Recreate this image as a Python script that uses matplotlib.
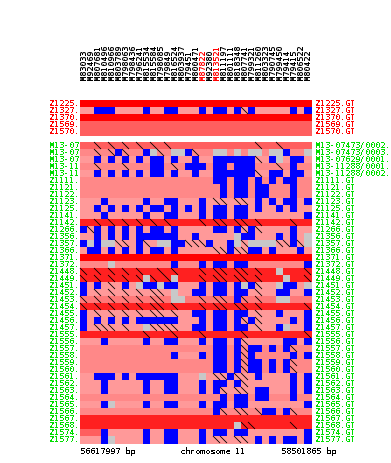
"""Genotype block chart for a chromosome 11 region, saved to out.png."""

import matplotlib

matplotlib.use("Agg")
import matplotlib.pyplot as plt
import numpy as np
from matplotlib.colors import ListedColormap

plt.rcParams["text.hinting"] = "native"
plt.rcParams["text.hinting_factor"] = 1

markers = [
    "M83033", "M92469", "M807681", "M810496", "M810966", "M803789", "M798063",
    "M798436", "M796241", "M815534", "M815584", "M798085", "M79849", "M816524",
    "M803937", "M79451", "M800471", "M87822", "M92380", "M813521", "M811197",
    "M801111", "M818348", "M807741", "M799321", "M811260", "M803323", "M790745",
    "M799450", "M79414", "M79415", "M806522", "M80422",
]
red_markers = ["M87822", "M813521"]

top_left = ["Z1225.", "Z1327.", "Z1370.", "Z1569.", "Z1570."]
top_right = ["Z1225.GT", "Z1327.GT", "Z1370.GT", "Z1569.GT", "Z1570.GT"]
top_shade = [0, 4, 0, 2, 2]
top_blue = [[], [2, 3, 4, 9, 12, 13, 17, 19, 20, 22, 24, 30, 32], [], [], []]
top_gray = {}
top_hatch = {1: [23]}

main_left = [
    "M13-07", "M13-07", "M13-07", "M13-11", "M13-11", "Z1111.", "Z1121.", "Z1122.",
    "Z1123.", "Z1125.", "Z1141.", "Z1142.", "Z1266.", "Z1356.", "Z1357.", "Z1366.",
    "Z1371.", "Z1372.", "Z1448.", "Z1449.", "Z1451.", "Z1452.", "Z1453.", "Z1454.",
    "Z1455.", "Z1456.", "Z1457.", "Z1555.", "Z1556.", "Z1557.", "Z1558.", "Z1559.",
    "Z1560.", "Z1561.", "Z1562.", "Z1563.", "Z1564.", "Z1565.", "Z1566.", "Z1567.",
    "Z1568.", "Z1574.", "Z1577.",
]
main_right = [
    "M13-07473/0002.", "M13-07473/0003.", "M13-07629/0001.", "M13-11288/0001.",
    "M13-11288/0002.", "Z1111.GT", "Z1121.GT", "Z1122.GT", "Z1123.GT", "Z1125.GT",
    "Z1141.GT", "Z1142.GT", "Z1266.GT", "Z1356.GT", "Z1357.GT", "Z1366.GT",
    "Z1371.GT", "Z1372.GT", "Z1448.GT", "Z1449.GT", "Z1451.GT", "Z1452.GT",
    "Z1453.GT", "Z1454.GT", "Z1455.GT", "Z1456.GT", "Z1457.GT", "Z1555.GT",
    "Z1556.GT", "Z1557.GT", "Z1558.GT", "Z1559.GT", "Z1560.GT", "Z1561.GT",
    "Z1562.GT", "Z1563.GT", "Z1564.GT", "Z1565.GT", "Z1566.GT", "Z1567.GT",
    "Z1568.GT", "Z1574.GT", "Z1577.GT",
]
# 0 red, 1 strong, 2 mid, 3 pale, 4 palest, 5 mid-pale
main_shade = [
    2, 3, 4, 3, 4, 3, 3, 3, 4, 4, 4, 1, 4, 4, 4, 4, 0, 3, 1, 1, 4, 4, 5, 1, 4, 4,
    4, 1, 4, 3, 3, 3, 3, 4, 4, 4, 3, 4, 3, 1, 1, 4, 4,
]
main_blue = [
    [],
    [5, 9, 15, 29],
    [2, 4, 6, 8, 10, 11, 13, 16, 19, 20, 21, 22, 23, 24, 27, 30, 31],
    [10, 11, 15, 16, 17, 19, 20, 22, 23, 24, 30],
    [2, 4, 6, 8, 10, 11, 13, 16, 19, 20, 21, 22, 23, 24, 27, 28, 30, 31],
    [19, 20, 22, 23, 25, 27, 29, 30],
    [20, 22, 23, 25, 26, 30],
    [20, 22, 23, 25, 26, 30],
    [3, 9, 12, 13, 17, 25, 27, 29, 30, 32],
    [2, 4, 6, 8, 10, 11, 13, 15, 17, 19, 20, 22, 23, 25, 28, 30],
    [3, 9, 12, 13, 17, 19, 20, 22, 23, 32],
    [],
    [0, 2, 4, 6, 8, 10, 11, 13, 19, 20, 22, 24, 30],
    [2, 4, 6, 8, 9, 10, 11, 12, 13, 16, 23, 24, 28, 30],
    [0, 2, 8, 13, 14, 18, 21, 30],
    [1, 2, 4, 6, 8, 10, 11, 13, 21, 24, 25, 27, 31],
    [],
    [13, 17, 19, 20, 22, 23, 32],
    [],
    [],
    [0, 2, 6, 9, 10, 12, 13, 17, 19, 20, 22, 24, 29, 30],
    [0, 16, 17, 19, 20, 22, 23, 28, 29, 32],
    [22],
    [],
    [0, 16, 17, 19, 20, 22, 23, 28, 32],
    [0, 2, 4, 6, 8, 9, 10, 11, 12, 13, 17, 19, 20, 22, 24, 30, 32],
    [0, 16, 17, 19, 20, 22, 23, 28, 32],
    [],
    [3, 9, 12, 13, 17, 19, 20, 22, 29, 30, 32],
    [19, 20, 22, 24, 25, 27, 29],
    [13, 17, 19, 20, 22, 24, 30, 32],
    [19, 20, 22, 24, 25, 27, 29],
    [19, 20, 22, 24, 25, 27, 29],
    [2, 3, 4, 6, 8, 9, 10, 11, 12, 13, 21, 25, 30, 32],
    [3, 9, 12, 13, 17, 19, 20, 22, 30, 32],
    [3, 9, 12, 13, 17, 19, 25, 26, 30, 32],
    [20, 22, 23, 25, 26, 30],
    [3, 9, 12, 13, 17, 19, 20, 22, 23, 32],
    [19, 26, 27, 29],
    [],
    [],
    [3, 9, 12, 13, 17, 19, 20, 22, 23, 32],
    [3, 9, 12, 13, 17, 25, 27, 29, 30, 32],
]
main_gray = {
    1: [10, 13, 14, 19, 20, 22, 24, 25, 27, 28, 32],
    2: [28],
    13: [22, 32],
    14: [1, 3, 4, 11, 12, 22, 24, 25, 26, 27, 32],
    17: [4],
    18: [28],
    19: [9, 13, 29],
    20: [8, 11, 23, 28, 32],
    21: [13],
    22: [13, 14, 28, 29],
    26: [9, 29],
    33: [17],
    37: [4],
    40: [22],
    42: [4],
}
main_hatch = {
    0: [2, 4, 6, 8, 10, 12, 25, 28],
    1: [2, 4, 6, 11, 16],
    2: [25],
    3: [2, 6, 13, 28],
    4: [25],
    8: [19, 20, 22, 23],
    11: [2, 4, 6, 8, 10, 12, 17, 19, 20, 22, 23, 25, 30],
    12: [1, 23, 25],
    14: [5, 6, 9, 15, 16, 17, 23, 28, 29, 31],
    15: [19, 20, 22, 23],
    18: [0, 2, 4, 6, 8, 11, 13, 17, 19, 20, 22, 23, 25, 32],
    19: [0, 2, 4, 6, 8, 10, 12, 17, 19, 20, 22, 23, 25, 32],
    20: [4, 25],
    21: [2, 4, 6, 8, 10, 11, 25],
    22: [0, 2, 4, 6, 8, 10, 11, 17, 19, 20, 23, 25],
    23: [0, 2, 4, 6, 8, 10, 11, 13, 17, 19, 20, 22, 23, 25, 32],
    24: [2, 4, 6, 8, 10, 11, 13, 25],
    25: [23, 25],
    26: [2, 3, 4, 6, 10, 11, 12, 13, 25],
    27: [9, 13, 17, 23, 32],
    28: [23],
    29: [23, 30],
    30: [23],
    31: [23, 30],
    32: [23, 30],
    33: [19, 20, 22, 23],
    34: [23],
    35: [20, 22, 23],
    38: [20, 22, 23, 25, 30],
    40: [23, 24, 30],
    42: [19, 20, 22, 23],
}
# (row, column, shade) cells that differ from the rest of their row
main_shade_cells = [(41, 0, 2), (41, 1, 2), (41, 2, 2), (30, 14, 4), (30, 15, 4), (30, 16, 4)]

left_pos = "56617997 bp"
mid_title = "chromosome 11"
right_pos = "58501865 bp"

SHADES = ["#ff0000", "#ff2020", "#ff5f5f", "#ff8888", "#ff9999", "#ff7878", "#0000ff", "#c8c8c8"]
BLUE, GRAY = 6, 7
GREEN = "#00dd00"
CELL = 7
X0 = 80
FONT = dict(family="DejaVu Sans Mono", fontsize=6.0, fontweight="bold")


def draw_block(ax, y0, shades, blue, gray, hatch, left, right, colour, extras=()):
    nrows, ncols = len(shades), len(markers)
    grid = np.tile(np.array(shades)[:, None], (1, ncols))
    for r, c, s in extras:
        grid[r, c] = s
    for r in range(nrows):
        grid[r, blue[r]] = BLUE
        if r in gray:
            grid[r, gray[r]] = GRAY

    # the last row and column come out one pixel wider in the original
    x_edges = X0 + CELL * np.arange(ncols + 1) + (np.arange(ncols + 1) == ncols)
    y_edges = y0 + CELL * np.arange(nrows + 1) + (np.arange(nrows + 1) == nrows)
    ax.pcolormesh(
        x_edges, y_edges, grid, cmap=ListedColormap(SHADES),
        vmin=-0.5, vmax=len(SHADES) - 0.5, antialiased=False, linewidth=0,
    )
    for r, cols in hatch.items():
        for c in cols:
            ax.plot(
                [x_edges[c], x_edges[c] + CELL], [y_edges[r], y_edges[r] + CELL],
                color="black", lw=0.6, solid_capstyle="butt",
            )
    for r in range(nrows):
        y = y_edges[r] + CELL / 2
        ax.text(79.5, y, left[r], color=colour, ha="right", va="center", antialiased=False, **FONT)
        ax.text(315, y, right[r], color=colour, ha="left", va="center", antialiased=False, **FONT)


fig = plt.figure(figsize=(3.91, 4.63), dpi=100)
ax = fig.add_axes([0, 0, 1, 1])
ax.set_xlim(0, 391)
ax.set_ylim(463, 0)
ax.axis("off")

draw_block(
    ax, 100, top_shade, top_blue, top_gray, top_hatch,
    top_left, top_right, "#ff0000",
)
draw_block(
    ax, 142, main_shade, main_blue, main_gray, main_hatch,
    main_left, main_right, GREEN, main_shade_cells,
)

# rotated text stays readable only with antialiasing on
for c, name in enumerate(markers):
    ax.text(
        X0 + CELL * c + 3.5, 80, name, rotation=90, ha="center", va="bottom",
        color="#ff0000" if name in red_markers else "black", **FONT,
    )

ax.text(80, 452, left_pos, ha="left", va="center", color="black", antialiased=False, **FONT)
ax.text(180, 452, mid_title, ha="left", va="center", color="black", antialiased=False, **FONT)
ax.text(281, 452, right_pos, ha="left", va="center", color="black", antialiased=False, **FONT)

fig.savefig("out.png", dpi=100)
plt.close(fig)
